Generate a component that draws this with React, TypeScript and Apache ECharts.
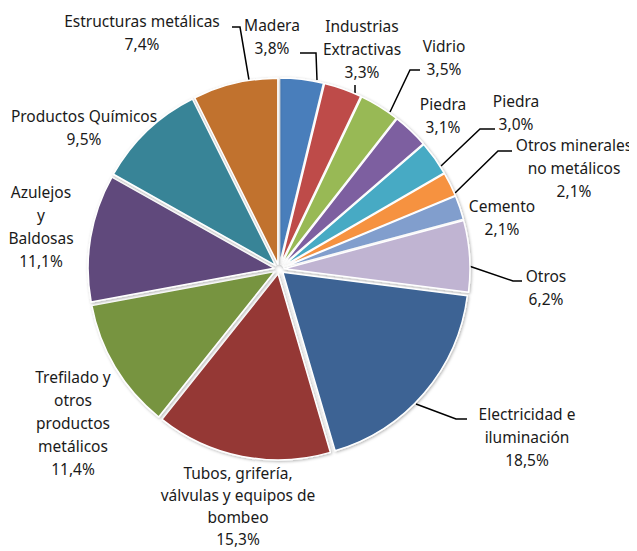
import React, { useEffect, useRef } from "react";
import * as echarts from "echarts";

const categories = [
  "Madera",
  "Industrias\nExtractivas",
  "Vidrio",
  "Piedra",
  "Piedra",
  "Otros minerales\nno metálicos",
  "Cemento",
  "Otros",
  "Electricidad e\niluminación",
  "Tubos, grifería,\nválvulas y equipos de\nbombeo",
  "Trefilado y\notros\nproductos\nmetálicos",
  "Azulejos\ny\nBaldosas",
  "Productos Químicos",
  "Estructuras metálicas",
];

const values = [3.8, 3.3, 3.5, 3.1, 3.0, 2.1, 2.1, 6.2, 18.5, 15.3, 11.4, 11.1, 9.5, 7.4];

const colors = [
  "#4a7ebb", "#be4b48", "#98b954", "#7d5fa0", "#46aac4", "#f69240", "#819ecd",
  "#c0b4d2", "#3c6494", "#953735", "#779441", "#604a7b", "#378497", "#c1722f",
];

// label anchors (centre of each text block)
const labelPos: [number, number][] = [
  [264, 28], [354, 41], [436, 49], [435, 107], [508, 104], [566, 160], [494, 209],
  [538, 279], [519, 429], [230, 498], [65, 415], [33, 218], [76, 119], [134, 24],
];
const labelLineHeight = [23, 23, 23, 23, 23, 23, 23, 23, 23, 22, 23, 23, 23, 23];

// leader lines (annotation)
const leaderLines: [number, number][][] = [
  [[224, 19], [232, 19], [241, 72]],
  [[292, 45], [308, 45], [309, 72]],
  [[347, 77], [347, 85]],
  [[412, 62], [402, 62], [382, 104]],
  [[487, 121], [472, 121], [433, 158]],
  [[504, 143], [490, 143], [447, 185]],
  [[514, 273], [505, 273], [461, 258]],
  [[459, 411], [448, 411], [408, 396]],
];

const fmt = (v: number) => v.toFixed(1).replace(".", ",") + "%";

export default function App() {
  const ref = useRef<HTMLDivElement>(null);
  useEffect(() => {
    const chart = echarts.init(ref.current!, undefined, { renderer: "svg" });
    const itemStyleBase = {
      borderColor: "#ffffff",
      borderWidth: 1.5,
      shadowBlur: 3,
      shadowColor: "rgba(0,0,0,0.3)",
      shadowOffsetX: 1,
      shadowOffsetY: 1,
    };
    const texts = values.map((v, i) => ({
      type: "text",
      x: labelPos[i][0],
      y: labelPos[i][1],
      silent: true,
      style: {
        text: categories[i] + "\n" + fmt(v),
        fill: "#1a1a1a",
        fontFamily: "Noto Sans",
        fontSize: 15.5,
        lineHeight: labelLineHeight[i],
        align: "center",
        verticalAlign: "middle",
      },
    }));
    const lines = leaderLines.map((pts) => ({
      type: "polyline",
      silent: true,
      shape: { points: pts },
      style: { stroke: "#000000", lineWidth: 1.5, fill: "none" },
    }));
    chart.setOption({
      animation: false,
      backgroundColor: "#ffffff",
      graphic: { elements: [...lines, ...texts] },
      series: [
        {
          type: "pie",
          center: [271, 261],
          radius: [0, 186],
          startAngle: 90,
          clockwise: true,
          selectedMode: "multiple",
          selectedOffset: 5,
          emphasis: { disabled: true },
          select: { itemStyle: itemStyleBase },
          itemStyle: itemStyleBase,
          label: { show: false },
          labelLine: { show: false },
          data: values.map((v, i) => ({
            value: v,
            name: categories[i],
            selected: true,
            itemStyle: { color: colors[i] },
            select: { itemStyle: { color: colors[i] } },
          })),
        },
      ],
    });
    return () => chart.dispose();
  }, []);
  return <div ref={ref} style={{ width: 637, height: 551 }} />;
}
